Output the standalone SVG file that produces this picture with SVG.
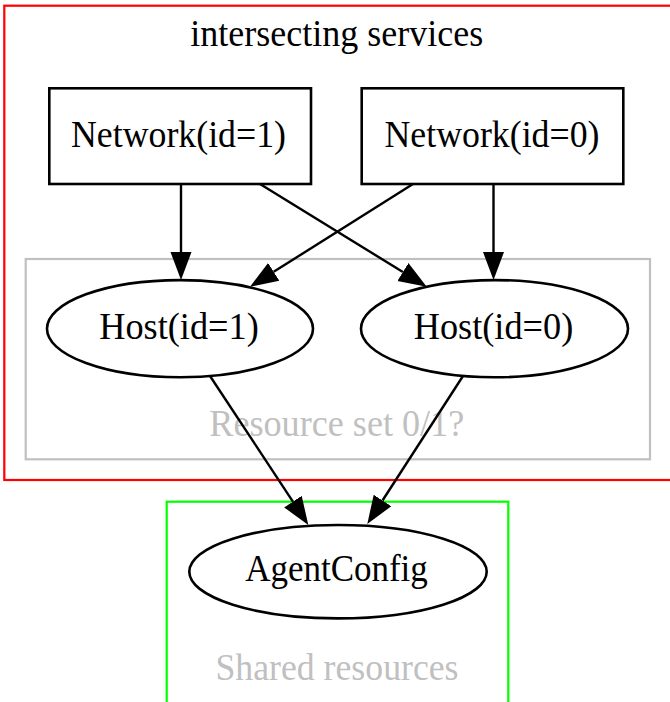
<svg xmlns="http://www.w3.org/2000/svg" width="670" height="702" viewBox="0 0 670 702">
  <style>
    text { font-family: "Liberation Serif", "Times New Roman", serif; font-size: 38px; text-anchor: middle; }
    .node { fill: none; stroke: #000; stroke-width: 2.6; }
    .edge { fill: none; stroke: #000; stroke-width: 2.4; }
    .cluster { fill: none; stroke-width: 2.2; }
    .clabel { fill: #c0c0c0; }
  </style>
  <defs>
    <marker id="arrow" markerUnits="userSpaceOnUse" orient="auto" markerWidth="30" markerHeight="24" viewBox="0 -12 30 24" refX="0" refY="0">
      <path d="M0,-10.5 L28,0 L0,10.5 Z" fill="#000"/>
    </marker>
  </defs>
  <rect width="670" height="702" fill="#fff"/>

  <g id="cluster_services">
    <rect class="cluster" x="4.3" y="5.7" width="667.1" height="474.3" stroke="#ff0000"/>
    <text x="336.8" y="46" textLength="293" lengthAdjust="spacingAndGlyphs">intersecting services</text>
  </g>
  <g id="cluster_resource_set">
    <rect class="cluster" x="25.7" y="259" width="624.3" height="200.3" stroke="#c0c0c0"/>
    <text class="clabel" x="336.8" y="436" textLength="255" lengthAdjust="spacingAndGlyphs">Resource set 0/1?</text>
  </g>
  <g id="cluster_shared">
    <rect class="cluster" x="166.7" y="501.7" width="341.6" height="203" stroke="#00ff00"/>
    <text class="clabel" x="337" y="680" textLength="243" lengthAdjust="spacingAndGlyphs">Shared resources</text>
  </g>

  <g id="network1">
    <rect class="node" x="49.3" y="88.3" width="261.7" height="95.7"/>
    <text x="178.5" y="146.5" textLength="215" lengthAdjust="spacingAndGlyphs">Network(id=1)</text>
  </g>
  <g id="network0">
    <rect class="node" x="361.7" y="88.3" width="261.6" height="95.7"/>
    <text x="492" y="146.5" textLength="215" lengthAdjust="spacingAndGlyphs">Network(id=0)</text>
  </g>
  <g id="host1">
    <ellipse class="node" cx="180" cy="328.7" rx="133" ry="48.6"/>
    <text x="179" y="338.5" textLength="159.5" lengthAdjust="spacingAndGlyphs">Host(id=1)</text>
  </g>
  <g id="host0">
    <ellipse class="node" cx="494.5" cy="328.7" rx="133.5" ry="48.6"/>
    <text x="493.5" y="338.5" textLength="159.5" lengthAdjust="spacingAndGlyphs">Host(id=0)</text>
  </g>
  <g id="agentconfig">
    <ellipse class="node" cx="338" cy="571.7" rx="148.7" ry="46.7"/>
    <text x="336.5" y="581" textLength="182.7" lengthAdjust="spacingAndGlyphs">AgentConfig</text>
  </g>

  <g id="edges">
    <path class="edge" d="M181,184 L181,252" marker-end="url(#arrow)"/>
    <path class="edge" d="M493.5,184 L493.5,252" marker-end="url(#arrow)"/>
    <path class="edge" d="M260,184 L402.9,272" marker-end="url(#arrow)"/>
    <path class="edge" d="M413,184 L273.7,271.8" marker-end="url(#arrow)"/>
    <path class="edge" d="M210,376 L292.9,501.6" marker-end="url(#arrow)"/>
    <path class="edge" d="M463,376 L382.5,500.5" marker-end="url(#arrow)"/>
  </g>
</svg>
